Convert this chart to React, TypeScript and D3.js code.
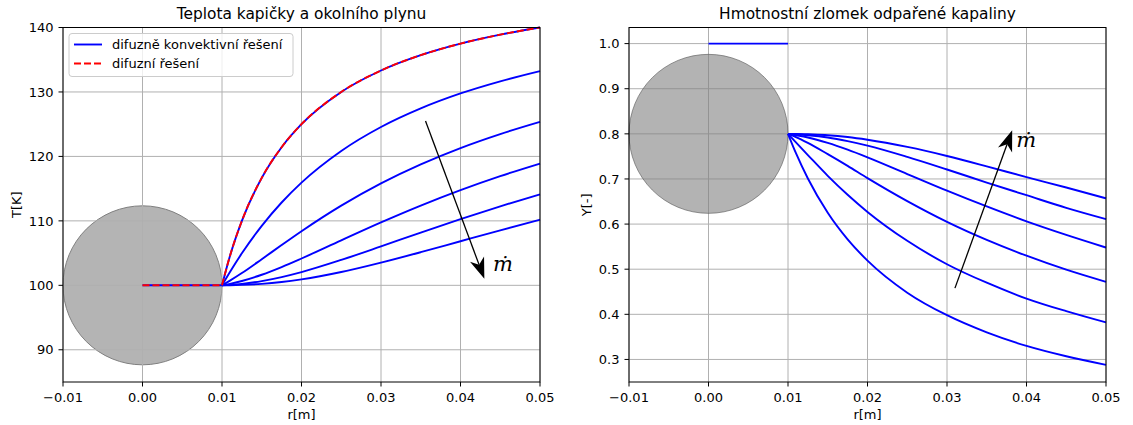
import * as d3 from 'd3'

// radial positions [m] sampled along the curves
const radii = [0.01, 0.011, 0.0125, 0.015, 0.0175, 0.02, 0.025, 0.03, 0.035, 0.04, 0.045, 0.05]
const dropletR = [0, 0.01]

// teplota [K]
const tempSeries = [
  [100, 104.55, 110, 116.67, 121.43, 125, 130, 133.33, 135.71, 137.5, 138.89, 140],
  [100, 102.07, 104.97, 109.23, 112.85, 115.93, 120.84, 124.56, 127.45, 129.77, 131.65, 133.23],
  [100, 100.72, 101.9, 104.05, 106.25, 108.4, 112.37, 115.82, 118.77, 121.3, 123.47, 125.36],
  [100, 100.23, 100.67, 101.64, 102.83, 104.16, 106.98, 109.76, 112.37, 114.77, 116.94, 118.89],
  [100, 100.07, 100.23, 100.66, 101.28, 102.05, 103.94, 106.04, 108.19, 110.28, 112.26, 114.12],
  [100, 100.02, 100.07, 100.23, 100.51, 100.92, 102.06, 103.52, 105.14, 106.84, 108.53, 110.18],
]
const diffusionTemp = [100, 104.55, 110, 116.67, 121.43, 125, 130, 133.33, 135.71, 137.5, 138.89, 140]
const dropletTemp = [100, 100]

// hmotnostni zlomek [-]
const massSeries = [
  [0.8, 0.757, 0.701, 0.625, 0.566, 0.519, 0.448, 0.398, 0.36, 0.33, 0.307, 0.288],
  [0.8, 0.781, 0.753, 0.707, 0.665, 0.627, 0.563, 0.511, 0.47, 0.435, 0.407, 0.382],
  [0.8, 0.793, 0.78, 0.755, 0.729, 0.702, 0.651, 0.605, 0.565, 0.53, 0.499, 0.472],
  [0.8, 0.797, 0.792, 0.78, 0.765, 0.748, 0.711, 0.674, 0.639, 0.606, 0.576, 0.548],
  [0.8, 0.799, 0.797, 0.792, 0.784, 0.774, 0.749, 0.721, 0.692, 0.664, 0.636, 0.611],
  [0.8, 0.8, 0.799, 0.797, 0.793, 0.787, 0.771, 0.751, 0.728, 0.704, 0.681, 0.657],
]
const dropletMass = [1.0, 1.0]

const xTicks = [-0.01, 0, 0.01, 0.02, 0.03, 0.04, 0.05]
const tempTicks = [90, 100, 110, 120, 130, 140]
const massTicks = [0.3, 0.4, 0.5, 0.6, 0.7, 0.8, 0.9, 1.0]

const FONT = 'DejaVu Sans, sans-serif'
const FS = 13
const LW = 1.9
const DASH = '7,3'
const TOP = 27.5
const BOTTOM = 382

type Pt = [number, number]

function Arrow({ from, to }: { from: Pt; to: Pt }) {
  const [x1, y1] = from
  const [x2, y2] = to
  const ang = Math.atan2(y2 - y1, x2 - x1)
  const len = 21
  const hw = 7.5
  const ux = Math.cos(ang), uy = Math.sin(ang)
  const bx = x2 - ux * len, by = y2 - uy * len
  const nx = x2 - ux * (len - 6), ny = y2 - uy * (len - 6)
  const head = `M${x2},${y2} L${bx - uy * hw},${by + ux * hw} L${nx},${ny} L${bx + uy * hw},${by - ux * hw} Z`
  return (
    <g>
      <line x1={x1} y1={y1} x2={nx} y2={ny} stroke="black" strokeWidth={1.3} />
      <path d={head} fill="black" />
    </g>
  )
}

function Panel(props: {
  x0: number
  x1: number
  yDomain: [number, number]
  yTicks: number[]
  yFmt: (v: number) => string
  title: string
  ylabel: string
  ylabelX: number
  series: number[][]
  inner: number[]
  center: number
  dashed?: number[]
  arrow: { from: Pt; to: Pt; label: Pt }
  gridOverCircle: boolean
  legend?: boolean
}) {
  const { x0, x1 } = props
  const x = d3.scaleLinear().domain([-0.01, 0.05]).range([x0, x1])
  const y = d3.scaleLinear().domain(props.yDomain).range([BOTTOM, TOP])
  const line = d3
    .line<number>()
    .x((_, i) => x(radii[i]))
    .y((d) => y(d))
    .curve(d3.curveMonotoneX)
  const innerLine = d3
    .line<number>()
    .x((_, i) => x(dropletR[i]))
    .y((d) => y(d))
  const fmtX = (v: number) => d3.format('.2f')(v).replace('-', '\u2212')
  const r = x(0.01) - x(0)

  const grid = (
    <g stroke="#b0b0b0" strokeWidth={1}>
      {xTicks.map((t) => (
        <line key={'gx' + t} x1={x(t)} x2={x(t)} y1={TOP} y2={BOTTOM} />
      ))}
      {props.yTicks.map((t) => (
        <line key={'gy' + t} x1={x0} x2={x1} y1={y(t)} y2={y(t)} />
      ))}
    </g>
  )
  const circle = props.gridOverCircle ? (
    <circle cx={x(0)} cy={y(props.center)} r={r} fill="#b4b4b4" stroke="#808080" strokeWidth={1} />
  ) : (
    <circle cx={x(0)} cy={y(props.center)} r={r} fill="#808080" fillOpacity={0.6} stroke="#555" strokeOpacity={0.6} strokeWidth={1} />
  )

  const [ax1, ay1] = props.arrow.from
  const [ax2, ay2] = props.arrow.to
  const [lx, ly] = props.arrow.label

  return (
    <g fontFamily={FONT}>
      {props.gridOverCircle ? (
        <>
          {circle}
          {grid}
        </>
      ) : (
        <>
          {grid}
          {circle}
        </>
      )}
      <path d={innerLine(props.inner) ?? ''} fill="none" stroke="#0000ff" strokeWidth={LW} />
      {props.series.map((s, i) => (
        <path key={i} d={line(s) ?? ''} fill="none" stroke="#0000ff" strokeWidth={LW} />
      ))}
      {props.dashed && (
        <>
          <path d={innerLine(props.inner) ?? ''} fill="none" stroke="#ff0000" strokeWidth={LW} strokeDasharray={DASH} />
          <path d={line(props.dashed) ?? ''} fill="none" stroke="#ff0000" strokeWidth={LW} strokeDasharray={DASH} />
        </>
      )}
      <rect x={x0} y={TOP} width={x1 - x0} height={BOTTOM - TOP} fill="none" stroke="black" strokeWidth={1} />
      {xTicks.map((t) => (
        <g key={'tx' + t}>
          <line x1={x(t)} x2={x(t)} y1={BOTTOM} y2={BOTTOM + 4.5} stroke="black" strokeWidth={1} />
          <text x={x(t)} y={BOTTOM + 19.7} fontSize={FS} textAnchor="middle">
            {fmtX(t)}
          </text>
        </g>
      ))}
      {props.yTicks.map((t) => (
        <g key={'ty' + t}>
          <line x1={x0 - 4.5} x2={x0} y1={y(t)} y2={y(t)} stroke="black" strokeWidth={1} />
          <text x={x0 - 9.5} y={y(t) + 4.7} fontSize={FS} textAnchor="end">
            {props.yFmt(t)}
          </text>
        </g>
      ))}
      <text x={(x0 + x1) / 2} y={418.5} fontSize={FS} textAnchor="middle">
        r[m]
      </text>
      <text
        transform={`translate(${props.ylabelX},${(TOP + BOTTOM) / 2}) rotate(-90)`}
        fontSize={FS}
        textAnchor="middle"
      >
        {props.ylabel}
      </text>
      <text x={(x0 + x1) / 2} y={18.5} fontSize={15.4} textAnchor="middle">
        {props.title}
      </text>
      <Arrow from={[x(ax1), y(ay1)]} to={[x(ax2), y(ay2)]} />
      <text x={x(lx)} y={y(ly)} fontSize={21} fontStyle="italic" fontFamily="DejaVu Serif, serif">
        ṁ
      </text>
      {props.legend && (
        <g>
          <rect x={x0 + 6} y={33.5} width={224} height={43} rx={3} fill="white" fillOpacity={0.8} stroke="#cccccc" strokeWidth={1} />
          <line x1={x0 + 11} x2={x0 + 39} y1={44.5} y2={44.5} stroke="#0000ff" strokeWidth={LW} />
          <line x1={x0 + 11} x2={x0 + 39} y1={63.5} y2={63.5} stroke="#ff0000" strokeWidth={LW} strokeDasharray={DASH} />
          <text x={x0 + 49} y={49} fontSize={FS}>
            difuzně konvektivní řešení
          </text>
          <text x={x0 + 49} y={68} fontSize={FS}>
            difuzní řešení
          </text>
        </g>
      )}
    </g>
  )
}

export default function App() {
  return (
    <svg
      width={1133}
      height={425}
      viewBox="0 0 1133 425"
      style={{ position: 'absolute', left: 0, top: 0, background: 'white' }}
    >
      <rect width={1133} height={425} fill="white" />
      <Panel
        x0={63}
        x1={540}
        yDomain={[85, 140]}
        yTicks={tempTicks}
        yFmt={(v) => String(v)}
        title="Teplota kapičky a okolního plynu"
        ylabel="T[K]"
        ylabelX={21}
        series={tempSeries}
        inner={dropletTemp}
        center={100}
        dashed={diffusionTemp}
        arrow={{ from: [0.0356, 125.5], to: [0.043, 101], label: [0.0441, 102.2] }}
        gridOverCircle={true}
        legend={true}
      />
      <Panel
        x0={629}
        x1={1106}
        yDomain={[0.25, 1.0357]}
        yTicks={massTicks}
        yFmt={(v) => d3.format('.1f')(v)}
        title="Hmotnostní zlomek odpařené kapaliny"
        ylabel="Y[-]"
        ylabelX={591}
        series={massSeries}
        inner={dropletMass}
        center={0.8}
        arrow={{ from: [0.031, 0.458], to: [0.0382, 0.808], label: [0.0387, 0.77] }}
        gridOverCircle={false}
      />
    </svg>
  )
}
